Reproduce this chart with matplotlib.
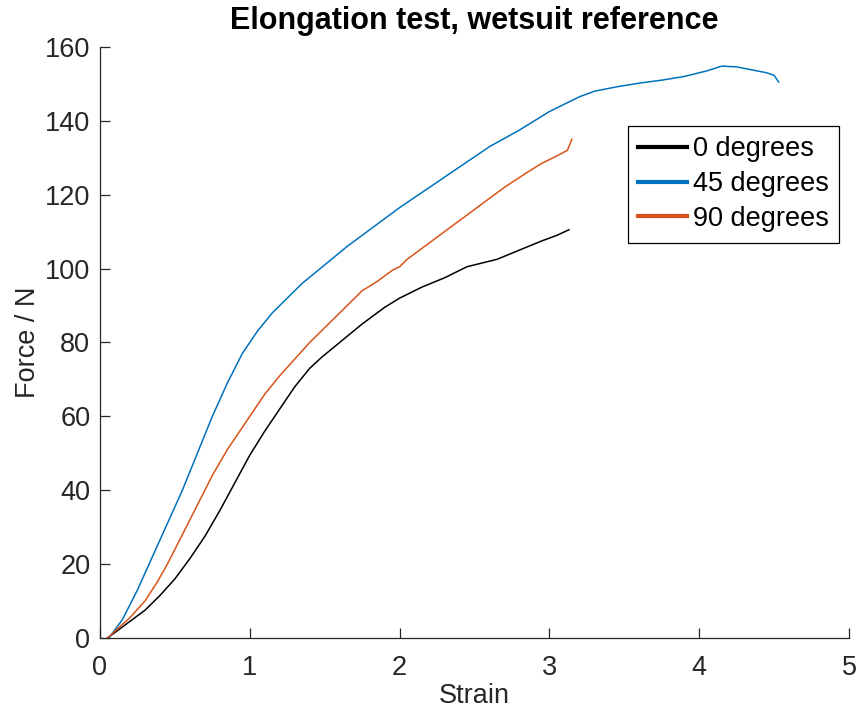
import matplotlib.pyplot as plt

plt.rcParams['font.family'] = ['Liberation Sans', 'DejaVu Sans']

# Strain / force readings for each fibre direction
strain_0 = [0.05, 0.15, 0.3, 0.4, 0.5, 0.6, 0.7, 0.8, 0.9, 1.0, 1.1, 1.2, 1.3, 1.4, 1.48,
            1.6, 1.75, 1.9, 2.0, 2.15, 2.3, 2.45, 2.55, 2.65, 2.8, 2.95, 3.05, 3.13]
force_0 = [0, 3, 7.5, 11.5, 16, 21.5, 27.5, 34.5, 42, 49.5, 56, 62, 68, 73, 76,
           80, 85, 89.5, 92, 95, 97.5, 100.5, 101.5, 102.5, 105, 107.5, 109, 110.5]

strain_45 = [0.06, 0.15, 0.25, 0.35, 0.45, 0.55, 0.65, 0.75, 0.85, 0.95, 1.05, 1.15, 1.25,
             1.35, 1.5, 1.65, 1.8, 2.0, 2.2, 2.4, 2.6, 2.8, 3.0, 3.1, 3.2, 3.3, 3.45,
             3.6, 3.75, 3.9, 4.05, 4.15, 4.25, 4.35, 4.45, 4.5, 4.53]
force_45 = [0, 5, 13, 22, 31, 40, 50, 60, 69, 77, 83, 88, 92,
            96, 101, 106, 110.5, 116.5, 122, 127.5, 133, 137.5, 142.5, 144.5, 146.5, 148, 149.2,
            150.2, 151, 152, 153.5, 154.8, 154.6, 153.8, 153, 152.3, 150.5]

strain_90 = [0.05, 0.2, 0.3, 0.38, 0.45, 0.55, 0.65, 0.75, 0.85, 1.0, 1.1, 1.2, 1.3, 1.4,
             1.55, 1.65, 1.75, 1.85, 1.95, 2.0, 2.05, 2.15, 2.25, 2.4, 2.55, 2.7, 2.85,
             2.95, 3.05, 3.12, 3.15]
force_90 = [0, 5.5, 10, 15, 20, 28, 36, 44, 51, 60, 66, 71, 75.5, 80,
            86, 90, 94, 96.5, 99.5, 100.5, 102.5, 105.5, 108.5, 113, 117.5, 122, 126,
            128.5, 130.5, 132, 135]

labels = ['0 degrees', '45 degrees', '90 degrees']
colors = ['black', '#0072BD', '#D95319']

fig = plt.figure(figsize=(8.59, 7.13), dpi=100)
ax = fig.add_axes([0.1164, 0.1052, 0.872, 0.829])

ax.plot(strain_0, force_0, color=colors[0], lw=1.1, label=labels[0])
ax.plot(strain_45, force_45, color=colors[1], lw=1.1, label=labels[1])
ax.plot(strain_90, force_90, color=colors[2], lw=1.1, label=labels[2])

ax.set_xlim(0, 5)
ax.set_ylim(0, 160)
ax.set_xticks(range(0, 6))
ax.set_yticks(range(0, 161, 20))

# MATLAB look: box off, ticks inward
for side in ['top', 'right']:
    ax.spines[side].set_visible(False)
for side in ['left', 'bottom']:
    ax.spines[side].set_color('#262626')
    ax.spines[side].set_linewidth(0.9)
ax.tick_params(direction='in', length=7, width=0.9, colors='#262626',
               labelsize=19.5, pad=7)
ax.tick_params(axis='x', pad=12)

ax.set_xlabel('Strain', fontsize=19.5, color='#262626', labelpad=2)
ax.set_ylabel('Force / N', fontsize=19.5, color='#262626', labelpad=3)
ax.set_title('Elongation test, wetsuit reference', fontsize=22, fontweight='bold', pad=13)

leg = ax.legend(loc='upper right', bbox_to_anchor=(0.987, 0.867), fontsize=19.5,
                fancybox=False, framealpha=1, edgecolor='black',
                handlelength=1.8, handletextpad=0.2, borderpad=0.4, labelspacing=0.32,
                borderaxespad=0)
for line in leg.get_lines():
    line.set_linewidth(3)
leg.get_frame().set_linewidth(0.9)

plt.savefig('out.png', dpi=100)
